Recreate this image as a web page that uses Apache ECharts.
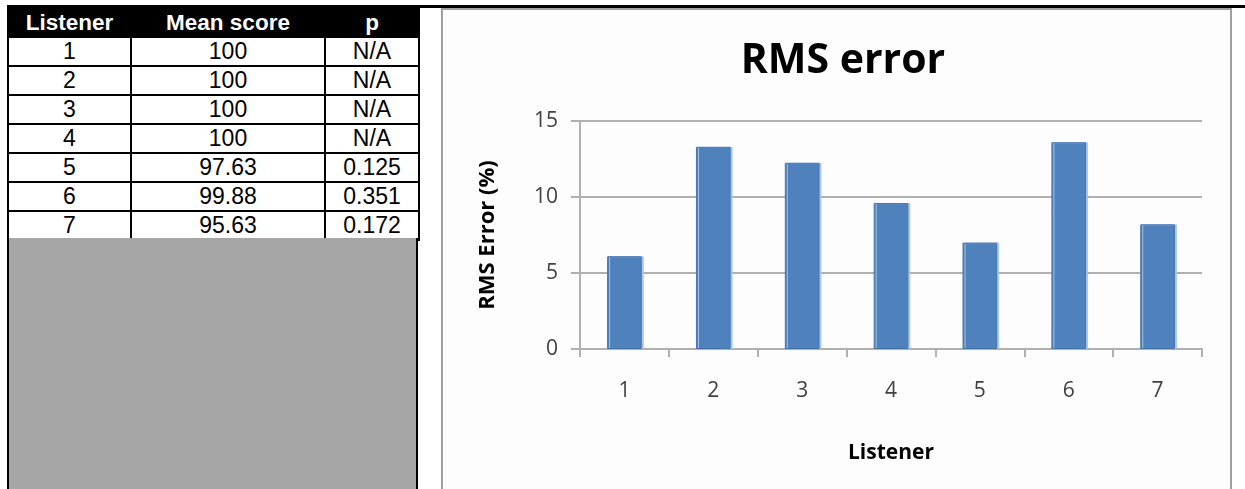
<!DOCTYPE html>
<html>
<head>
<meta charset="utf-8">
<script src="https://cdn.jsdelivr.net/npm/echarts@6/dist/echarts.min.js"></script>
<style>
  html, body { margin: 0; padding: 0; width: 1245px; height: 489px; overflow: hidden; background: #ffffff; }
  #topRule { position: absolute; left: 7px; top: 5px; width: 1238px; height: 3px; background: #000; }
  #scoreTable { position: absolute; left: 7px; top: 7px; border-collapse: collapse; table-layout: fixed; width: 411px; }
  #scoreTable td, #scoreTable th { border: 2px solid #000; padding: 0; height: 27px; line-height: 27px; text-align: center;
    font-family: "Liberation Sans", Arial, sans-serif; font-size: 23px; color: #000; }
  #scoreTable th { background: #000; color: #fff; font-weight: bold; font-size: 22.5px; }
  #filler { position: absolute; left: 7px; top: 238px; width: 407px; height: 260px; background: #a6a6a6;
    border-left: 2px solid #000; border-right: 2px solid #000; }
  #chart { position: absolute; left: 0; top: 0; width: 1245px; height: 489px; }
</style>
</head>
<body>
<div id="topRule"></div>
<table id="scoreTable"></table>
<div id="filler"></div>
<div id="chart"></div>
<script>
// Table contents
const tableHeaders = ['Listener', 'Mean score', 'p'];
const listeners = ['1', '2', '3', '4', '5', '6', '7'];
const meanScores = ['100', '100', '100', '100', '97.63', '99.88', '95.63'];
const pValues = ['N/A', 'N/A', 'N/A', 'N/A', '0.125', '0.351', '0.172'];
const columnWidths = [123, 194, 94];

// Chart contents
const chartTitle = 'RMS error';
const rmsError = [6.1, 13.3, 12.25, 9.6, 7.0, 13.6, 8.2];
const yTicks = { min: 0, max: 15, step: 5 };

// Build the score table
const table = document.getElementById('scoreTable');
const colgroup = document.createElement('colgroup');
columnWidths.forEach(w => { const c = document.createElement('col'); c.style.width = w + 'px'; colgroup.appendChild(c); });
table.appendChild(colgroup);
const headRow = document.createElement('tr');
tableHeaders.forEach(h => { const th = document.createElement('th'); th.textContent = h; headRow.appendChild(th); });
table.appendChild(headRow);
listeners.forEach((l, i) => {
  const tr = document.createElement('tr');
  [l, meanScores[i], pValues[i]].forEach(v => { const td = document.createElement('td'); td.textContent = v; tr.appendChild(td); });
  table.appendChild(tr);
});

// Bar chart of RMS error per listener
const chart = echarts.init(document.getElementById('chart'), null, { renderer: 'canvas' });
const labelFont = '"Open Sans", "DejaVu Sans", sans-serif';
chart.setOption({
  backgroundColor: 'transparent',
  animation: false,
  graphic: [{
    type: 'rect',
    shape: { x: 442, y: 9, width: 789, height: 500 },
    style: { fill: '#fdfdfd', stroke: '#a0a0a0', lineWidth: 2 },
    z: -10
  }],
  title: {
    text: chartTitle,
    left: 838,
    top: 36,
    textAlign: 'center',
    textStyle: { fontFamily: labelFont, fontWeight: 'bold', fontSize: 41, color: '#000' }
  },
  grid: { left: 580, right: 43, top: 121, bottom: 140, containLabel: false },
  xAxis: {
    type: 'category',
    data: listeners,
    name: 'Listener',
    nameLocation: 'middle',
    nameGap: 94,
    nameTextStyle: { fontFamily: labelFont, fontWeight: 'bold', fontSize: 21, color: '#000' },
    axisLine: { lineStyle: { color: '#b0b0b0', width: 2 } },
    axisTick: { show: true, length: 8, lineStyle: { color: '#b0b0b0', width: 2 } },
    axisLabel: { margin: 32, fontFamily: labelFont, fontSize: 21, color: '#404040' }
  },
  yAxis: {
    type: 'value',
    min: yTicks.min,
    max: yTicks.max,
    interval: yTicks.step,
    name: 'RMS Error (%)',
    nameLocation: 'middle',
    nameGap: 81,
    nameRotate: 90,
    nameTextStyle: { fontFamily: labelFont, fontWeight: 'bold', fontSize: 22, color: '#000' },
    axisLine: { show: true, lineStyle: { color: '#b0b0b0', width: 2 } },
    axisTick: { show: true, length: 9, lineStyle: { color: '#b0b0b0', width: 2 } },
    splitLine: { lineStyle: { color: '#b0b0b0', width: 2 } },
    axisLabel: { margin: 22, fontFamily: labelFont, fontSize: 21, color: '#404040' }
  },
  series: [{
    type: 'bar',
    data: rmsError,
    barWidth: '39%',
    itemStyle: {
      color: '#4f81bd',
      borderColor: '#4675ad',
      borderWidth: 1,
      shadowColor: 'rgba(170,195,230,0.95)',
      shadowOffsetX: 2,
      shadowBlur: 0
    }
  }]
});
</script>
</body>
</html>
